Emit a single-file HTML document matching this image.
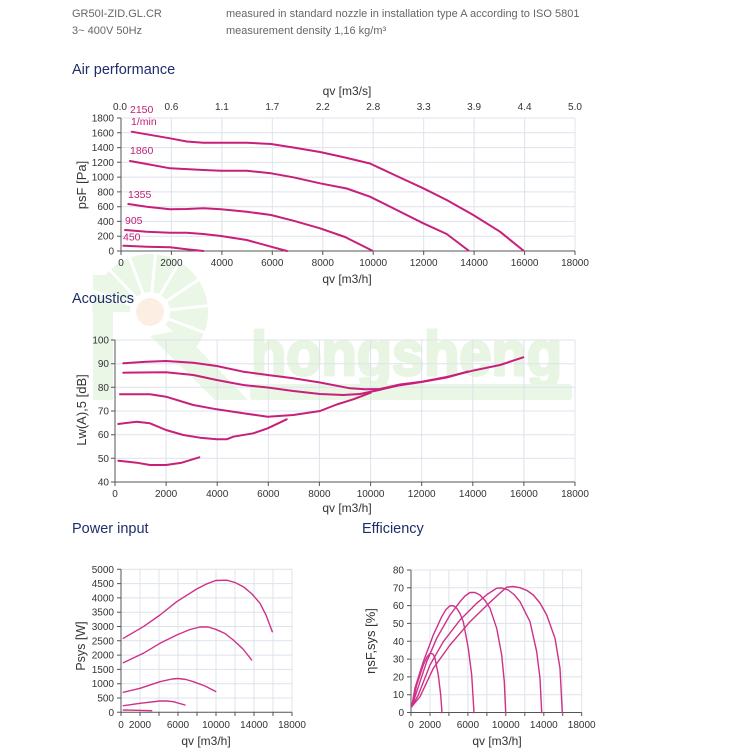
<!DOCTYPE html>
<html>
<head>
<meta charset="utf-8">
<style>
  html,body{margin:0;padding:0;background:#fff;}
  svg{display:block;}
  text{font-family:"Liberation Sans",Arial,sans-serif;}
</style>
</head>
<body>
<svg width="750" height="753" viewBox="0 0 750 753" xmlns="http://www.w3.org/2000/svg">
  <rect width="750" height="753" fill="#fff"/>

  <!-- Watermark -->
  <g>
    <rect x="93" y="275" width="20" height="125" fill="#eaf6e6"/>
    <path d="M150,312 L92,312 A58,58 0 1 1 194.4,349.3 Z" fill="#eaf6e6"/>
    <g stroke="#fff" stroke-width="3">
      <line x1="150" y1="312" x2="88" y2="289"/>
      <line x1="150" y1="312" x2="104" y2="264"/>
      <line x1="150" y1="312" x2="127" y2="251"/>
      <line x1="150" y1="312" x2="156" y2="248"/>
      <line x1="150" y1="312" x2="183" y2="256"/>
      <line x1="150" y1="312" x2="204" y2="276"/>
      <line x1="150" y1="312" x2="214" y2="305"/>
      <line x1="150" y1="312" x2="211" y2="335"/>
    </g>
    <circle cx="150" cy="312" r="20" fill="#fff"/>
    <circle cx="150" cy="312" r="14" fill="#fdeee4"/>
    <polygon points="150,336 180,330 248,400 215,400" fill="#eaf6e6"/>
    <text x="251" y="375" font-size="62" font-weight="bold" fill="#e7f5e2" stroke="#e7f5e2" stroke-width="3" stroke-linejoin="round" textLength="311" lengthAdjust="spacingAndGlyphs">hongsheng</text>
    <rect x="250" y="384" width="322" height="16" rx="3" fill="#eaf6e6"/>
  </g>

  <!-- Header -->
  <g font-size="11" fill="#666">
    <text x="72" y="17">GR50I-ZID.GL.CR</text>
    <text x="72" y="34">3~ 400V 50Hz</text>
    <text x="226" y="17">measured in standard nozzle in installation type A according to ISO 5801</text>
    <text x="226" y="34">measurement density 1,16 kg/m³</text>
  </g>

  <!-- Section titles -->
  <g font-size="14.5" fill="#1f2d6b">
    <text x="72" y="74">Air performance</text>
    <text x="72" y="303">Acoustics</text>
    <text x="72" y="533">Power input</text>
    <text x="362" y="533">Efficiency</text>
  </g>

  <!-- ================= AIR PERFORMANCE ================= -->
  <g stroke="#dde3eb" stroke-width="1" fill="none">
    <path d="M171.4,118V251 M221.9,118V251 M272.3,118V251 M322.8,118V251 M373.2,118V251 M423.7,118V251 M474.1,118V251 M524.6,118V251 M575,118V251"/>
    <path d="M121,118H575 M121,132.8H575 M121,147.6H575 M121,162.3H575 M121,177.1H575 M121,191.9H575 M121,206.7H575 M121,221.4H575 M121,236.2H575"/>
  </g>
  <g stroke="#555" stroke-width="1" fill="none">
    <path d="M121,118V251H575"/>
    <path d="M117,118H121 M117,132.8H121 M117,147.6H121 M117,162.3H121 M117,177.1H121 M117,191.9H121 M117,206.7H121 M117,221.4H121 M117,236.2H121 M117,251H121"/>
    <path d="M121,251V255 M171.4,251V255 M221.9,251V255 M272.3,251V255 M322.8,251V255 M373.2,251V255 M423.7,251V255 M474.1,251V255 M524.6,251V255 M575,251V255"/>
  </g>
  <g font-size="10" fill="#333" text-anchor="end">
    <text x="114" y="121.5">1800</text>
    <text x="114" y="136.3">1600</text>
    <text x="114" y="151.1">1400</text>
    <text x="114" y="165.8">1200</text>
    <text x="114" y="180.6">1000</text>
    <text x="114" y="195.4">800</text>
    <text x="114" y="210.2">600</text>
    <text x="114" y="224.9">400</text>
    <text x="114" y="239.7">200</text>
    <text x="114" y="254.5">0</text>
  </g>
  <g font-size="10" fill="#333" text-anchor="middle">
    <text x="121" y="266">0</text>
    <text x="171.4" y="266">2000</text>
    <text x="221.9" y="266">4000</text>
    <text x="272.3" y="266">6000</text>
    <text x="322.8" y="266">8000</text>
    <text x="373.2" y="266">10000</text>
    <text x="423.7" y="266">12000</text>
    <text x="474.1" y="266">14000</text>
    <text x="524.6" y="266">16000</text>
    <text x="575" y="266">18000</text>
    <text x="120" y="110">0.0</text>
    <text x="171.4" y="110">0.6</text>
    <text x="221.9" y="110">1.1</text>
    <text x="272.3" y="110">1.7</text>
    <text x="322.8" y="110">2.2</text>
    <text x="373.2" y="110">2.8</text>
    <text x="423.7" y="110">3.3</text>
    <text x="474.1" y="110">3.9</text>
    <text x="524.6" y="110">4.4</text>
    <text x="575" y="110">5.0</text>
  </g>
  <text x="347" y="95" font-size="12" fill="#333" text-anchor="middle">qv [m3/s]</text>
  <text x="347" y="283" font-size="12" fill="#333" text-anchor="middle">qv [m3/h]</text>
  <text transform="translate(86,185) rotate(-90)" font-size="13" fill="#333" text-anchor="middle">psF [Pa]</text>

  <g font-size="10.5" fill="#c2207a">
    <text x="130" y="113">2150</text>
    <text x="131" y="125">1/min</text>
    <text x="130" y="154">1860</text>
    <text x="128" y="198">1355</text>
    <text x="125" y="224">905</text>
    <text x="123" y="240.5">450</text>
  </g>

  <g stroke="#c8207a" stroke-width="2" fill="none" stroke-linejoin="round" stroke-linecap="round">
    <polyline points="131.7,131.7 146.7,134.3 170,138.3 186.7,141.5 203.3,142.7 221,142.7 246.7,142.7 271,144 293.3,147.5 320,152 345,157.5 370,163.5 396.7,176 423.3,188.3 446.7,200 473.3,215 500,231.7 523.3,250.5"/>
    <polyline points="130,161 146.7,164 170,168.3 203.3,170 221,170.7 246.7,170.7 271,173.3 293.3,177.3 320,183.3 346.7,188.5 370,196.7 396.7,210 423.3,223.3 446.7,234 468.5,250.5"/>
    <polyline points="128.3,204 146.7,206.7 170,209.3 186.7,209 203.3,208.3 221,209.3 246.7,211.7 271,215 293.3,220.7 320,228.3 345,237 372,250.5"/>
    <polyline points="125,230 146.7,231.7 170,232.7 186.7,232.7 203.3,234 221,236 246.7,240 271,246.7 287,251"/>
    <polyline points="123.3,245.7 146.7,246.7 170,247.3 186.7,249.3 203.3,251"/>
  </g>

  <!-- ================= ACOUSTICS ================= -->
  <g stroke="#dde3eb" stroke-width="1" fill="none">
    <path d="M166.1,340V482 M217.2,340V482 M268.3,340V482 M319.4,340V482 M370.6,340V482 M421.7,340V482 M472.8,340V482 M523.9,340V482 M575,340V482"/>
    <path d="M115,340H575 M115,363.7H575 M115,387.3H575 M115,411H575 M115,434.7H575 M115,458.3H575"/>
  </g>
  <g stroke="#555" stroke-width="1" fill="none">
    <path d="M115,340V482H575"/>
    <path d="M111,340H115 M111,363.7H115 M111,387.3H115 M111,411H115 M111,434.7H115 M111,458.3H115 M111,482H115"/>
    <path d="M115,482V486 M166.1,482V486 M217.2,482V486 M268.3,482V486 M319.4,482V486 M370.6,482V486 M421.7,482V486 M472.8,482V486 M523.9,482V486 M575,482V486"/>
  </g>
  <g font-size="10" fill="#333" text-anchor="end">
    <text x="109" y="343.5">100</text>
    <text x="109" y="367.2">90</text>
    <text x="109" y="390.8">80</text>
    <text x="109" y="414.5">70</text>
    <text x="109" y="438.2">60</text>
    <text x="109" y="461.8">50</text>
    <text x="109" y="485.5">40</text>
  </g>
  <g font-size="10" fill="#333" text-anchor="middle">
    <text x="115" y="497">0</text>
    <text x="166.1" y="497">2000</text>
    <text x="217.2" y="497">4000</text>
    <text x="268.3" y="497">6000</text>
    <text x="319.4" y="497">8000</text>
    <text x="370.6" y="497">10000</text>
    <text x="421.7" y="497">12000</text>
    <text x="472.8" y="497">14000</text>
    <text x="523.9" y="497">16000</text>
    <text x="575" y="497">18000</text>
  </g>
  <text x="347" y="512" font-size="12" fill="#333" text-anchor="middle">qv [m3/h]</text>
  <text transform="translate(86,410) rotate(-90)" font-size="13" fill="#333" text-anchor="middle">Lw(A),5 [dB]</text>

  <g stroke="#c8207a" stroke-width="2" fill="none" stroke-linejoin="round" stroke-linecap="round">
    <polyline points="123.3,363.3 146.7,361.7 166,361 193.3,362.7 216.7,366 243.3,371.7 267.7,375 293.3,378.3 320,382.5 350,388.3 365,389.3 380,389 400,384.5 421.7,381.7 446.7,377 472.7,370.7 500,365 523.3,357.3"/>
    <polyline points="123.3,372.7 166,372.3 193.3,375 216.7,380 243.3,385 267.7,387.5 293.3,391 320,394 343.3,395 360,394 376.7,390.5 400,385.2 421.7,382 446.7,377.5 468,371.5"/>
    <polyline points="120,394.3 150,394.3 166,396.7 193.3,405 216.7,409.3 243.3,413.3 267.7,416.7 293.3,415 320,411 336.7,404.5 353.3,399.3 370.7,392.7"/>
    <polyline points="118.3,424 136.7,421.7 150,423.3 166,430 183.3,435 200,437.7 216.7,439.3 226.7,439.3 233.3,436.7 253.3,433.3 267.7,428.3 286.7,419.3"/>
    <polyline points="118.3,460.7 136.7,462.7 150,465 166,465 181.7,462.7 199.3,457.3"/>
  </g>

  <!-- ================= POWER INPUT ================= -->
  <g stroke="#dde3eb" stroke-width="1" fill="none">
    <path d="M140,569.3V712.3 M159,569.3V712.3 M178,569.3V712.3 M197,569.3V712.3 M216,569.3V712.3 M235,569.3V712.3 M254,569.3V712.3 M273,569.3V712.3 M292,569.3V712.3"/>
    <path d="M121,569.3H292 M121,583.6H292 M121,597.9H292 M121,612.2H292 M121,626.5H292 M121,640.8H292 M121,655.1H292 M121,669.4H292 M121,683.7H292 M121,698H292"/>
  </g>
  <g stroke="#555" stroke-width="1" fill="none">
    <path d="M121,569.3V712.3H292"/>
    <path d="M117,569.3H121 M117,583.6H121 M117,597.9H121 M117,612.2H121 M117,626.5H121 M117,640.8H121 M117,655.1H121 M117,669.4H121 M117,683.7H121 M117,698H121 M117,712.3H121"/>
    <path d="M121,712.3V716 M140,712.3V716 M159,712.3V716 M178,712.3V716 M197,712.3V716 M216,712.3V716 M235,712.3V716 M254,712.3V716 M273,712.3V716 M292,712.3V716"/>
  </g>
  <g font-size="10" fill="#333" text-anchor="end">
    <text x="114" y="572.8">5000</text>
    <text x="114" y="587.1">4500</text>
    <text x="114" y="601.4">4000</text>
    <text x="114" y="615.7">3500</text>
    <text x="114" y="630">3000</text>
    <text x="114" y="644.3">2500</text>
    <text x="114" y="658.6">2000</text>
    <text x="114" y="672.9">1500</text>
    <text x="114" y="687.2">1000</text>
    <text x="114" y="701.5">500</text>
    <text x="114" y="715.8">0</text>
  </g>
  <g font-size="10" fill="#333" text-anchor="middle">
    <text x="121" y="728">0</text>
    <text x="140" y="728">2000</text>
    <text x="178" y="728">6000</text>
    <text x="216" y="728">10000</text>
    <text x="254" y="728">14000</text>
    <text x="292" y="728">18000</text>
  </g>
  <text x="206" y="745" font-size="12" fill="#333" text-anchor="middle">qv [m3/h]</text>
  <text transform="translate(85,646) rotate(-90)" font-size="12.5" fill="#333" text-anchor="middle">Psys [W]</text>

  <g stroke="#cf3088" stroke-width="1.4" fill="none" stroke-linejoin="round" stroke-linecap="round">
    <polyline points="123.3,638.3 143.3,626.7 160,615 176.7,601.7 196.7,589 206,584.2 215.7,580.5 226.7,580.2 235,582.5 243.3,586.7 252,594 260,603.3 266,615 272.3,631.7"/>
    <polyline points="123.3,662.7 143.3,653.3 160,643.3 176.7,635 190,629.5 200,627 208,627 215.7,629.3 225,633.5 233.3,640 243,649 251.7,660"/>
    <polyline points="123.3,692.3 140,688.3 160,681.7 172,679 178.3,678.5 186,679.5 193.3,681.7 205,686 215.7,691.5"/>
    <polyline points="123.3,705.7 140,703.3 160,701 167,701 173.3,701.7 185,705"/>
    <polyline points="123.3,710 151.7,710.7"/>
  </g>

  <!-- ================= EFFICIENCY ================= -->
  <g stroke="#dde3eb" stroke-width="1" fill="none">
    <path d="M430,570V712.5 M448.9,570V712.5 M467.9,570V712.5 M486.9,570V712.5 M505.8,570V712.5 M524.8,570V712.5 M543.8,570V712.5 M562.7,570V712.5 M581.7,570V712.5"/>
    <path d="M411,570H581.7 M411,587.8H581.7 M411,605.6H581.7 M411,623.4H581.7 M411,641.3H581.7 M411,659.1H581.7 M411,676.9H581.7 M411,694.7H581.7"/>
  </g>
  <g stroke="#555" stroke-width="1" fill="none">
    <path d="M411,570V712.5H581.7"/>
    <path d="M407,570H411 M407,587.8H411 M407,605.6H411 M407,623.4H411 M407,641.3H411 M407,659.1H411 M407,676.9H411 M407,694.7H411 M407,712.5H411"/>
    <path d="M411,712.5V716 M430,712.5V716 M448.9,712.5V716 M467.9,712.5V716 M486.9,712.5V716 M505.8,712.5V716 M524.8,712.5V716 M543.8,712.5V716 M562.7,712.5V716 M581.7,712.5V716"/>
  </g>
  <g font-size="10" fill="#333" text-anchor="end">
    <text x="404" y="573.5">80</text>
    <text x="404" y="591.3">70</text>
    <text x="404" y="609.1">60</text>
    <text x="404" y="626.9">50</text>
    <text x="404" y="644.8">40</text>
    <text x="404" y="662.6">30</text>
    <text x="404" y="680.4">20</text>
    <text x="404" y="698.2">10</text>
    <text x="404" y="716">0</text>
  </g>
  <g font-size="10" fill="#333" text-anchor="middle">
    <text x="411" y="728">0</text>
    <text x="430" y="728">2000</text>
    <text x="467.9" y="728">6000</text>
    <text x="505.8" y="728">10000</text>
    <text x="543.8" y="728">14000</text>
    <text x="581.7" y="728">18000</text>
  </g>
  <text x="497" y="745" font-size="12" fill="#333" text-anchor="middle">qv [m3/h]</text>
  <text transform="translate(375,641) rotate(-90)" font-size="13" fill="#333" text-anchor="middle">ηsF,sys [%]</text>

  <g stroke="#cf3088" stroke-width="1.4" fill="none" stroke-linejoin="round" stroke-linecap="round">
    <polyline points="411.7,706.7 416.7,685 423.3,665 427,657 430,653.3 433,654 435,658.3 438.3,675 440.7,695 442,712.7"/>
    <polyline points="411.7,706.7 415,688 423.3,661.7 433.3,635 441.7,616.7 446,609.5 450,605.7 453.5,605.8 456.7,608.3 460,613.5 463.3,621.7 468.3,648.3 471.7,675 474,712.7"/>
    <polyline points="411.7,706.7 416.7,691.7 426.7,661.7 436.7,638.3 450,615 460,601.7 465,596 470,592.5 475,592.5 480,595 485,600.5 490,608.3 496.7,628.3 501.7,655 504.3,681.7 505.7,712.7"/>
    <polyline points="411.7,706.7 418.3,695 430,665 443.3,641.7 460,620 476.7,603.3 487,594.5 496.7,588.2 502,588 508.3,590 514,594.5 520,601.7 530,621.7 536.7,651.7 540,678.3 541.7,712.7"/>
    <polyline points="411.7,706.7 420,696.7 433.3,668.3 450,645 470,621.7 490,602.3 499,594 506.7,587.2 513,586.5 520,587.7 527,590.5 533.3,595 540,603 546.7,615 555,638.3 560,668.3 562.3,712.7"/>
  </g>
</svg>
</body>
</html>
